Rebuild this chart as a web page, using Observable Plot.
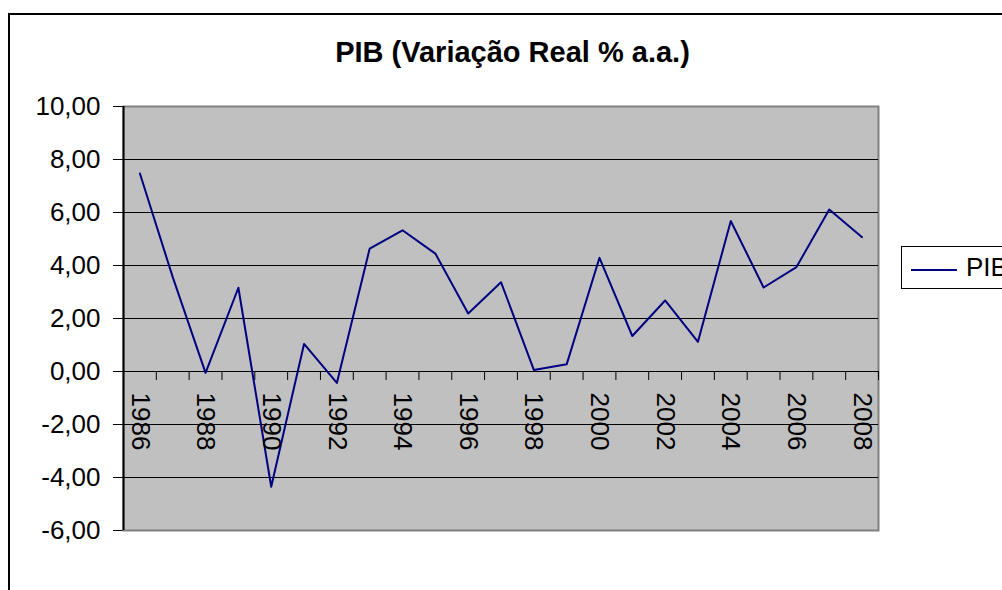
<!DOCTYPE html>
<html><head><meta charset="utf-8">
<script src="https://cdn.jsdelivr.net/npm/d3@7"></script>
<script src="https://cdn.jsdelivr.net/npm/@observablehq/plot@0.6"></script>
<style>
html,body{margin:0;padding:0;background:#fff;}
#wrap{position:relative;width:1002px;height:590px;overflow:hidden;font-family:"Liberation Sans",Arial,sans-serif;}
#chart{position:absolute;left:0;top:0;}
#border{position:absolute;left:8px;top:13px;width:1100px;height:700px;border:2px solid #000;pointer-events:none;}
#title{position:absolute;left:0;width:1025px;top:38px;text-align:center;font-weight:bold;font-size:29px;line-height:29px;color:#000;}
#legend{position:absolute;left:901px;top:246px;}
</style></head>
<body><div id="wrap"><div id="chart"></div><div id="border"></div><div id="title"></div><svg id="legend" width="101" height="43"></svg></div>
<script>
const titleText = "PIB (Variação Real % a.a.)";
const seriesName = "PIB";
const years = [1986,1987,1988,1989,1990,1991,1992,1993,1994,1995,1996,1997,1998,1999,2000,2001,2002,2003,2004,2005,2006,2007,2008];
const pib = [7.47,3.56,-0.05,3.16,-4.35,1.04,-0.43,4.64,5.33,4.45,2.19,3.37,0.06,0.27,4.29,1.34,2.68,1.12,5.68,3.17,3.94,6.11,5.07];
const yTicks = [-6,-4,-2,0,2,4,6,8,10];
const gridValues = [-4,-2,2,4,6,8];
const yearLabels = [1986,1988,1990,1992,1994,1996,1998,2000,2002,2004,2006,2008];
const lineColor = "#000080";
const plotBg = "#C0C0C0";

const data = years.map((year, i) => ({year, value: pib[i]}));
const xDomain = [years[0] - 0.5, years[years.length - 1] + 0.5];
const boundaries = d3.range(years.length + 1).map(i => xDomain[0] + i);
const fmt = d => d.toFixed(2).replace(".", ",");

document.getElementById("title").textContent = titleText;

const chart = Plot.plot({
  width: 1002,
  height: 590,
  marginLeft: 123,
  marginRight: 124,
  marginTop: 106,
  marginBottom: 60,
  style: {fontFamily: "'Liberation Sans', Arial, sans-serif", fontSize: "26px", background: "transparent", color: "#000"},
  x: {domain: xDomain, axis: null},
  y: {domain: [yTicks[0], yTicks[yTicks.length - 1]], ticks: yTicks, tickFormat: fmt, tickSize: 10, tickPadding: 13, label: null, line: false},
  marks: [
    Plot.frame({fill: plotBg, stroke: "#808080", strokeWidth: 2}),
    Plot.ruleY(gridValues, {stroke: "#000", strokeWidth: 1}),
    Plot.ruleY([0], {stroke: "#000", strokeWidth: 1}),
    Plot.ruleX(boundaries, {x: d => d, y1: 0, y2: 0, insetBottom: -9, stroke: "#000", strokeWidth: 1}),
    Plot.ruleX([xDomain[0]], {stroke: "#000", strokeWidth: 2}),
    Plot.line(data, {x: "year", y: "value", stroke: lineColor, strokeWidth: 2}),
    Plot.text(yearLabels, {x: d => d, y: 0, text: d => String(d), rotate: 90, textAnchor: "start", dy: 21, fontSize: 26, fill: "#000"})
  ]
});
document.getElementById("chart").appendChild(chart);

const lg = d3.select("#legend");
lg.append("rect").attr("x", 0.5).attr("y", 0.5).attr("width", 200).attr("height", 42).attr("fill", "#fff").attr("stroke", "#000");
lg.append("line").attr("x1", 10).attr("x2", 56).attr("y1", 24).attr("y2", 24).attr("stroke", lineColor).attr("stroke-width", 2);
lg.append("text").attr("x", 65).attr("y", 30).attr("font-size", 26).attr("font-family", "'Liberation Sans', Arial, sans-serif").attr("fill", "#000").text(seriesName);
</script>
</body></html>
